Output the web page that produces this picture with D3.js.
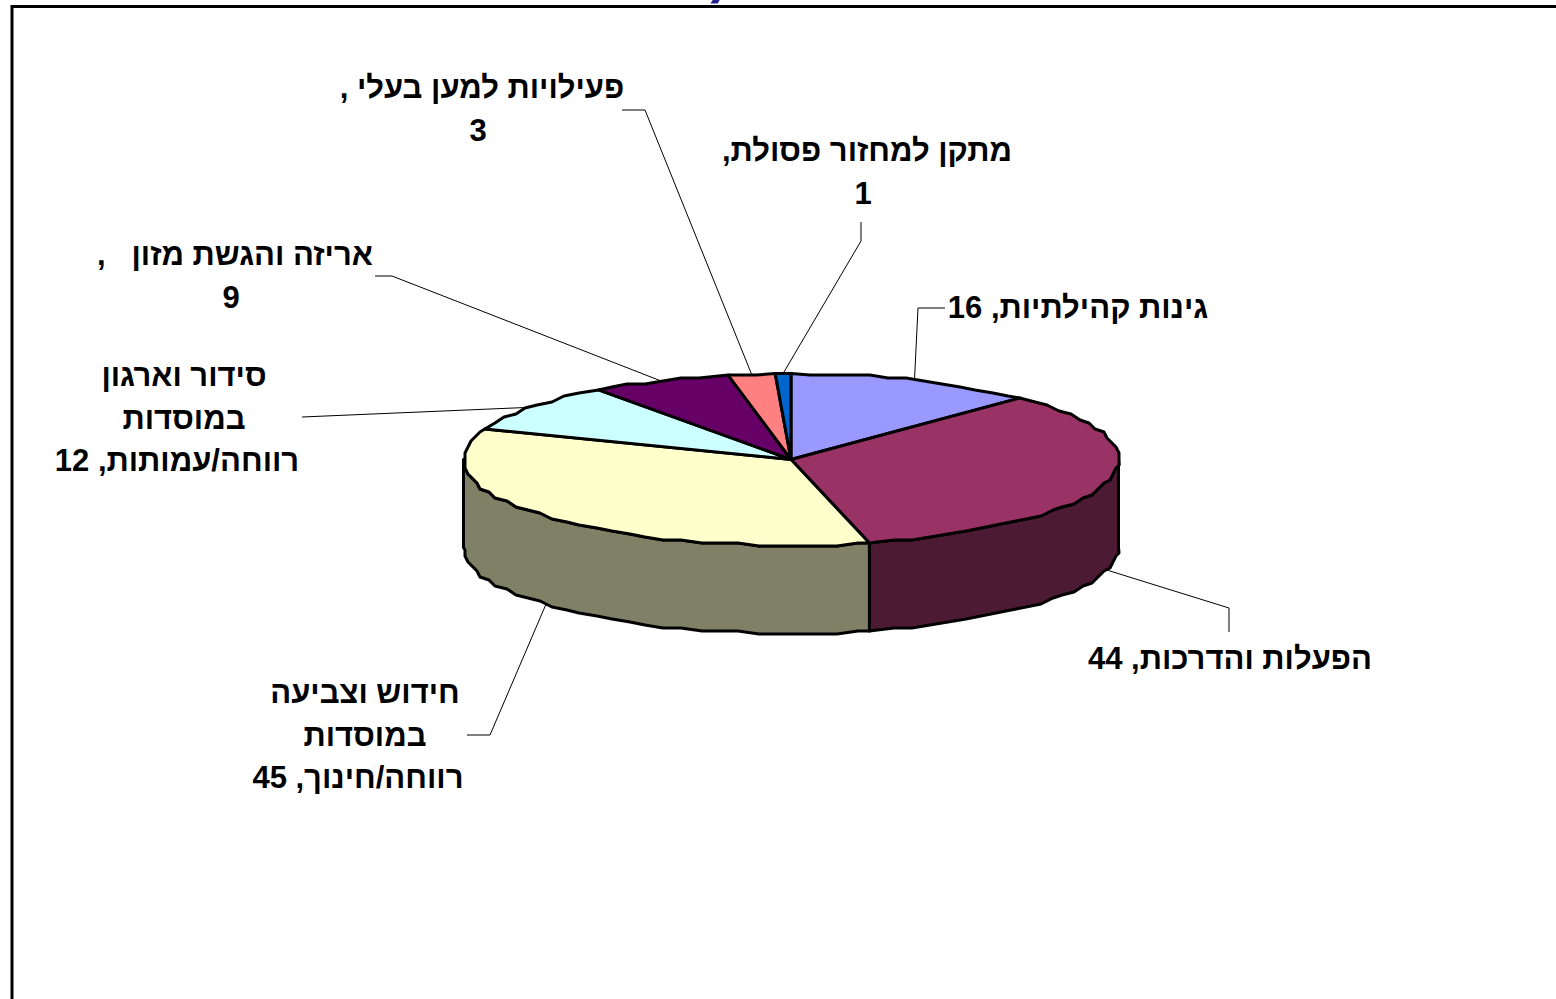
<!DOCTYPE html>
<html>
<head>
<meta charset="utf-8">
<script src="https://cdn.jsdelivr.net/npm/d3@7"></script>
<style>
  html, body { margin: 0; padding: 0; background: #fff; overflow: hidden; }
  text { font-family: "Liberation Sans", Arial, sans-serif; font-weight: bold; font-size: 31px; fill: #000; direction: rtl; white-space: pre; }
</style>
</head>
<body>
<div id="chart"></div>
<script>
// chart values, clockwise from 12 o'clock
var categories = [
  ["גינות קהילתיות, 16"],
  ["הפעלות והדרכות, 44"],
  ["חידוש וצביעה", "במוסדות", "רווחה/חינוך, 45"],
  ["סידור וארגון", "במוסדות", "רווחה/עמותות, 12"],
  ["אריזה והגשת מזון   ,", "9"],
  ["פעילויות למען בעלי ,", "3"],
  ["מתקן למחזור פסולת,", "1"]
];
var values = [16, 44, 45, 12, 9, 3, 1];
var topColors = ["#9999ff", "#993366", "#ffffcc", "#ccffff", "#660066", "#ff8080", "#0066cc"];
var sideColors = ["#4d4d80", "#4d1a33", "#808066", "#668080", "#330033", "#804040", "#003366"];

// label layout: centre of the text block, first line baseline
var labelPos = [
  { x: 1078, y: 318 },
  { x: 1230, y: 669 },
  { x: 365, y: 703 },
  { x: 184, y: 386 },
  { x: 235, y: 265 },
  { x: 482, y: 98 },
  { x: 867, y: 161 }
];
// leader line elbows: bend point and end point next to the label
var leaderPos = [
  [[918, 308], [945, 308]],
  [[1229, 608], [1229, 632]],
  [[490, 735], [467, 735]],
  [[302, 417]],
  [[392, 276], [375, 276]],
  [[645, 110], [622, 110]],
  [[861, 241], [861, 222]]
];

var svgWidth = 1556;
var svgHeight = 999;
var cx = 791, cy = 459.5, rx = 327.5, ry = 86, depth = 88;
var step = 0.06;
var grid = 3; // the original outline is a slightly stepped polygon

var svg = d3.select("#chart")
  .append("svg")
  .attr("width", svgWidth)
  .attr("height", svgHeight)
  .style("display", "block");

// cut-off title at the top edge
svg.append("text")
  .attr("x", 716)
  .attr("y", -9)
  .attr("text-anchor", "middle")
  .style("fill", "#1f1f8f")
  .style("font-size", "80px")
  .text(",");

// frame runs off the right and bottom of the page
svg.append("rect")
  .attr("x", 12)
  .attr("y", 6.5)
  .attr("width", 1700)
  .attr("height", 1200)
  .attr("fill", "none")
  .attr("stroke", "#000")
  .attr("stroke-width", 3);

var pie = d3.pie().sort(null).value(d => d);
var slices = pie(values);

var xScale = d3.scaleLinear().domain([-1, 1]).range([cx - rx, cx + rx]);
var yScale = d3.scaleLinear().domain([-1, 1]).range([cy - ry, cy + ry]);

function rim(a) {
  return [xScale(Math.sin(a)), yScale(-Math.cos(a))];
}

function snap(p) {
  return [Math.round(p[0] / grid) * grid, Math.round(p[1] / grid) * grid];
}

function rimPoints(a0, a1) {
  var inner = d3.range(Math.ceil(a0 / step + 0.5), Math.floor(a1 / step - 0.5) + 1)
    .map(k => snap(rim(k * step)));
  return [rim(a0)].concat(inner, [rim(a1)]);
}

var line = d3.line();

// side wall: only the part of the rim facing the viewer
var sideGroup = svg.append("g");
slices.forEach(function(s, i) {
  var a0 = Math.max(s.startAngle, Math.PI / 2);
  var a1 = Math.min(s.endAngle, Math.PI * 1.5);
  if (a1 <= a0) return;
  var front = rimPoints(a0, a1);
  var back = front.slice().reverse().map(p => [p[0], p[1] + depth]);
  sideGroup.append("path")
    .attr("d", line(front.concat(back)) + "Z")
    .attr("fill", sideColors[i])
    .attr("stroke", "#000")
    .attr("stroke-width", 3)
    .attr("stroke-linejoin", "round");
});

// top face
var topGroup = svg.append("g");
slices.forEach(function(s, i) {
  topGroup.append("path")
    .attr("d", line([[cx, cy]].concat(rimPoints(s.startAngle, s.endAngle))) + "Z")
    .attr("fill", topColors[i])
    .attr("stroke", "#000")
    .attr("stroke-width", 3)
    .attr("stroke-linejoin", "round");
});

// leader lines start at the middle of each slice's rim
var leaderGroup = svg.append("g");
slices.forEach(function(s, i) {
  var mid = (s.startAngle + s.endAngle) / 2;
  var p = rim(mid);
  // front facing slices hang their leader from the bottom of the wall
  if (mid > Math.PI / 2 && mid < Math.PI * 1.5) p = [p[0], p[1] + depth];
  leaderGroup.append("path")
    .attr("d", line([p].concat(leaderPos[i])))
    .attr("fill", "none")
    .attr("stroke", "#000")
    .attr("stroke-width", 1);
});

// labels, the wrapped last line sits a little left of the others
var lineHeight = 42.5;
var lastLineShift = { 1: 0, 2: -4, 3: -7 };
categories.forEach(function(lines, i) {
  var t = svg.append("text")
    .attr("text-anchor", "middle");
  lines.forEach(function(l, j) {
    var dx = j === lines.length - 1 ? lastLineShift[lines.length] : 0;
    t.append("tspan")
      .attr("x", labelPos[i].x + dx)
      .attr("y", labelPos[i].y + j * lineHeight)
      .text(l);
  });
});
</script>
</body>
</html>
